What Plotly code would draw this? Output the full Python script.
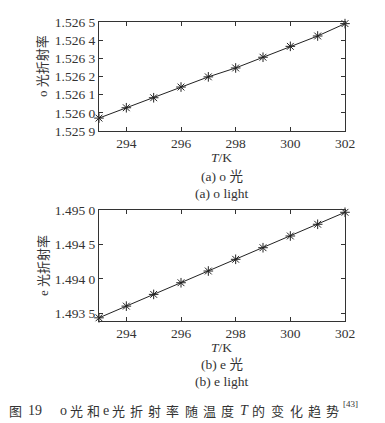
import plotly.graph_objects as go

# ---- data ----
temps = [293, 294, 295, 296, 297, 298, 299, 300, 301, 302]
n_o = [1.525971, 1.526028, 1.526083, 1.526142, 1.526198, 1.526247, 1.526306, 1.526366, 1.526423, 1.526491]
n_e = [1.493436, 1.493606, 1.493776, 1.493945, 1.494115, 1.494285, 1.494453, 1.494623, 1.494793, 1.494967]

x_ticks = [294, 296, 298, 300, 302]
o_ticks = [1.5259, 1.5260, 1.5261, 1.5262, 1.5263, 1.5264, 1.5265]
o_tick_labels = ["1.525 9", "1.526 0", "1.526 1", "1.526 2", "1.526 3", "1.526 4", "1.526 5"]
e_ticks = [1.4935, 1.4940, 1.4945, 1.4950]
e_tick_labels = ["1.493 5", "1.494 0", "1.494 5", "1.495 0"]

OFF = 8  # default page body margin
W, H = 385 - OFF, 423 - OFF
SERIF = "Liberation Serif, Times New Roman, serif"
CJK = "Noto Sans CJK SC"
INK = "#333333"

def px(x):
    return (x - OFF) / W

def py(y):
    return 1 - (y - OFF) / H

fig = go.Figure()
for n, xa, ya in [(n_o, "x", "y"), (n_e, "x2", "y2")]:
    fig.add_trace(go.Scatter(
        x=temps, y=n, xaxis=xa, yaxis=ya, mode="lines+markers",
        line=dict(color="#222222", width=1),
        marker=dict(symbol="asterisk-open", size=8, line=dict(color="#222222", width=1)),
        cliponaxis=False, showlegend=False))

axis_common = dict(showline=True, linecolor=INK, linewidth=1, mirror="ticks",
                   ticks="inside", ticklen=4, tickcolor=INK, showgrid=False,
                   zeroline=False, automargin=False,
                   tickfont=dict(family=SERIF, size=13.5, color=INK))

xdom = [px(99), px(345)]
fig.update_layout(
    width=W, height=H, margin=dict(l=0, r=0, t=0, b=0, autoexpand=False),
    paper_bgcolor="white", plot_bgcolor="white",
    xaxis=dict(domain=xdom, range=[293, 302], tickvals=x_ticks, anchor="y", **axis_common),
    yaxis=dict(domain=[py(131), py(22)], range=[1.5259, 1.5265], tickvals=o_ticks,
               ticktext=o_tick_labels, anchor="x", **axis_common),
    xaxis2=dict(domain=xdom, range=[293, 302], tickvals=x_ticks, anchor="y2", **axis_common),
    yaxis2=dict(domain=[py(321), py(210)], range=[1.49339, 1.4950], tickvals=e_ticks,
                ticktext=e_tick_labels, anchor="x2", **axis_common),
)

def ann(text, x, y, size=13.5, family=SERIF, angle=0, xanchor="center"):
    fig.add_annotation(text=text, x=px(x), y=py(y), xref="paper", yref="paper",
                       showarrow=False, textangle=angle, xanchor=xanchor, yanchor="middle",
                       font=dict(family=family, size=size, color=INK))

cx = (99 + 345) / 2
# top panel labels
ann("<i>T</i>/K", cx, 157)
ann("(a) o <span style='font-family:Noto Sans CJK SC'>光</span>", cx, 175)
ann("(a) o light", cx, 193)
ann("o <span style='font-family:Noto Sans CJK SC'>光折射率</span>", 42, 66, size=13, angle=-90)
# bottom panel labels
ann("<i>T</i>/K", cx, 347)
ann("(b) e <span style='font-family:Noto Sans CJK SC'>光</span>", cx, 363)
ann("(b) e light", cx, 381)
ann("e <span style='font-family:Noto Sans CJK SC'>光折射率</span>", 42, 266, size=13, angle=-90)

# caption, letter-spaced
cap_items = [("图", 15, CJK), ("19", 35, SERIF), ("o", 63, SERIF), ("光", 76, CJK), ("和", 93, CJK),
             ("e", 106, SERIF), ("光", 118, CJK), ("折", 136, CJK), ("射", 154, CJK), ("率", 172, CJK),
             ("随", 191, CJK), ("温", 209, CJK), ("度", 227, CJK), ("<i>T</i>", 244, SERIF),
             ("的", 259, CJK), ("变", 277, CJK), ("化", 296, CJK), ("趋", 314, CJK), ("势", 332, CJK)]
for t, x, f in cap_items:
    ann(t, x, 410, size=13 if f == CJK else 14, family=f)
ann("[43]", 341, 404, size=9, xanchor="left")

fig.write_html("out.html")
